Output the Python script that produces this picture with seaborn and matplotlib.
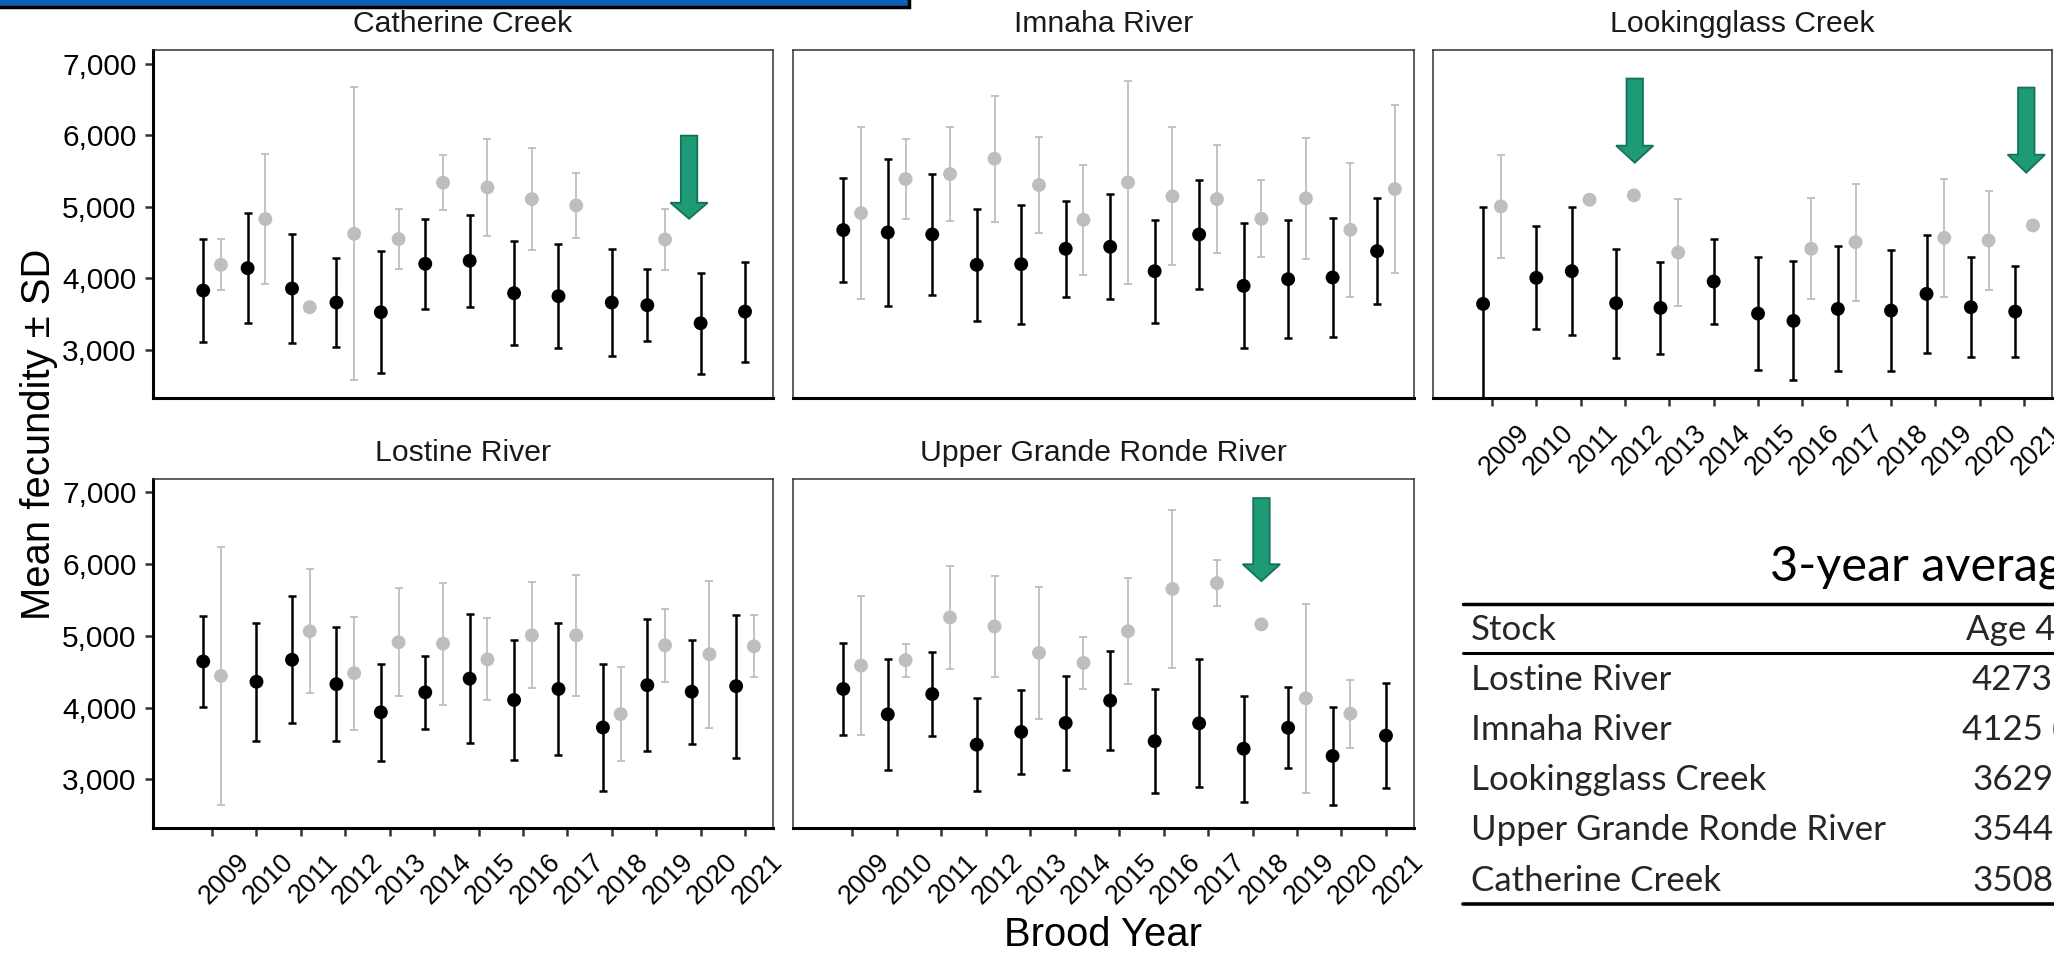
import numpy as np
import pandas as pd
import matplotlib
matplotlib.use("Agg")
import matplotlib.pyplot as plt
import matplotlib.transforms as mtransforms
from matplotlib.patches import Polygon, Rectangle
from matplotlib.lines import Line2D
import seaborn as sns

# ---------------- data ----------------
YEARS = list(range(2009, 2022))

CC_A4_MEAN = [3830, 4142, 3858, 3662, 3527, 4203, 4245, 3793, 3751, 3662, 3625, 3373, 3536]
CC_A4_SD = [716, 767, 765, 620, 853, 630, 646, 725, 725, 751, 499, 704, 699]
CC_A5_MEAN = [4189, 4828, 3597, 4622, 4548, 5336, 5270, 5107, 5019, None, 4543, None, None]
CC_A5_SD = [355, 909, None, 2047, 420, 383, 674, 716, 459, None, 429, None, None]

IR_A4_MEAN = [4674, 4641, 4613, 4189, 4198, 4413, 4441, 4100, 4613, 3895, 3988, 4012, 4380]
IR_A4_SD = [725, 1023, 849, 779, 830, 667, 730, 718, 763, 872, 823, 826, 741]
IR_A5_MEAN = [4911, 5387, 5457, 5671, 5303, 4818, 5340, 5145, 5107, 4832, 5117, 4678, 5247]
IR_A5_SD = [1199, 555, 651, 879, 667, 769, 1420, 963, 749, 539, 844, 935, 1173]

LC_A4_MEAN = [3643, 4007, 4100, 3653, 3587, 3956, 3508, 3406, 3573, 3550, 3783, 3597, 3536]
LC_A4_SD = [1352, 718, 893, 760, 641, 595, 793, 830, 872, 849, 825, 697, 641]
LC_A5_MEAN = [5005, None, 5098, 5159, 4361, None, None, 4413, 4506, None, 4566, 4529, 4739]
LC_A5_SD = [716, None, None, None, 742, None, None, 704, 818, None, 821, 688, None]

LR_A4_MEAN = [4641, 4359, 4665, 4325, 3933, 4211, 4402, 4105, 4258, 3722, 4311, 4220, 4297]
LR_A4_SD = [634, 823, 885, 790, 672, 512, 897, 830, 914, 890, 917, 723, 996]
LR_A5_MEAN = [4440, None, 5062, 4478, 4909, 4890, 4670, 5005, 5005, 3909, 4866, 4742, 4852]
LR_A5_SD = [1802, None, 866, 787, 751, 850, 570, 737, 840, 649, 510, 1024, 433]

UGR_A4_MEAN = [4258, 3904, 4187, 3483, 3660, 3785, 4096, 3531, 3780, 3426, 3718, 3325, 3608]
UGR_A4_SD = [634, 773, 586, 649, 586, 653, 687, 723, 890, 735, 562, 680, 730]
UGR_A5_MEAN = [4584, 4660, 5254, 5129, 4761, 4622, 5062, 5651, 5732, 5158, 4129, 3914, None]
UGR_A5_SD = [967, 230, 713, 703, 924, 359, 737, 1098, 321, None, 1314, 474, None]

STOCKS = ["Catherine Creek", "Imnaha River", "Lookingglass Creek",
          "Lostine River", "Upper Grande Ronde River"]
SERIES = {
    "Catherine Creek": (CC_A4_MEAN, CC_A4_SD, CC_A5_MEAN, CC_A5_SD),
    "Imnaha River": (IR_A4_MEAN, IR_A4_SD, IR_A5_MEAN, IR_A5_SD),
    "Lookingglass Creek": (LC_A4_MEAN, LC_A4_SD, LC_A5_MEAN, LC_A5_SD),
    "Lostine River": (LR_A4_MEAN, LR_A4_SD, LR_A5_MEAN, LR_A5_SD),
    "Upper Grande Ronde River": (UGR_A4_MEAN, UGR_A4_SD, UGR_A5_MEAN, UGR_A5_SD),
}

# highlight arrows: stock, x (year), top, head base, tip (fecundity units)
ARROWS = [
    ("Catherine Creek", 2019.74, 5993, 5056, 4832),
    ("Lookingglass Creek", 2012.22, 6790, 5853, 5615),
    ("Lookingglass Creek", 2021.05, 6664, 5727, 5476),
    ("Upper Grande Ronde River", 2018.2, 6916, 5995, 5760),
]

TABLE_TITLE = "3-year average"
TABLE_HEAD = ["Stock", "Age 4"]
TABLE_STOCKS = ["Lostine River", "Imnaha River", "Lookingglass Creek",
                "Upper Grande Ronde River", "Catherine Creek"]
TABLE_AGE4 = ["4273", "4125 (", "3629", "3544", "3508"]

# ---------------- long table ----------------
rows = []
for s in STOCKS:
    a4m, a4s, a5m, a5s = SERIES[s]
    for i, y in enumerate(YEARS):
        both = a4m[i] is not None and a5m[i] is not None
        if a5m[i] is not None:
            rows.append(dict(stock=s, year=y, age="Age 5", mean=a5m[i],
                             sd=a5s[i], xpos=y + (0.2 if both else 0.0)))
        if a4m[i] is not None:
            rows.append(dict(stock=s, year=y, age="Age 4", mean=a4m[i],
                             sd=a4s[i], xpos=y + (-0.2 if both else 0.0)))
df = pd.DataFrame(rows)
df["sd"] = pd.to_numeric(df["sd"])

# ---------------- style ----------------
sns.set_style("white")
plt.rcParams["font.family"] = ["Liberation Sans", "DejaVu Sans"]

GREY = "#BEBEBE"
W, H = 2054, 955
fig = plt.figure(figsize=(W / 100, H / 100), dpi=100)
fig.patch.set_facecolor("white")

cols = [(153, 773), (793, 1414), (1433, 2052)]
rws = [(50.5, 398.5), (479, 828)]
layout = {
    "Catherine Creek": (0, 0), "Imnaha River": (0, 1), "Lookingglass Creek": (0, 2),
    "Lostine River": (1, 0), "Upper Grande Ronde River": (1, 1),
}
show_x = {"Lookingglass Creek", "Lostine River", "Upper Grande Ronde River"}

YTICK_FS = 21.5
XTICK_FS = 19.2
axes = {}
for s in STOCKS:
    r, c = layout[s]
    x0, x1 = cols[c]
    y0, y1 = rws[r]
    ax = fig.add_axes([x0 / W, 1 - y1 / H, (x1 - x0) / W, (y1 - y0) / H])
    axes[s] = ax
    sub = df[df.stock == s].sort_values("age", ascending=False)
    for age, col, lw in [("Age 5", GREY, 1.3), ("Age 4", "black", 1.8)]:
        d = sub[(sub.age == age) & sub.sd.notna()]
        ax.errorbar(d.xpos, d["mean"], yerr=d.sd, fmt="none", ecolor=col,
                    elinewidth=lw, capsize=2.8, capthick=lw, zorder=2)
    sns.scatterplot(data=sub, x="xpos", y="mean", hue="age",
                    palette={"Age 4": "black", "Age 5": GREY},
                    s=100, linewidth=0, legend=False, ax=ax, zorder=3)
    ax.set_xlabel("")
    ax.set_ylabel("")
    ax.set_xlim(2007.67, 2021.63)
    ax.set_ylim(2322, 7182)
    ax.set_yticks([3000, 4000, 5000, 6000, 7000])
    ax.set_yticklabels([f"{v:,}" for v in [3000, 4000, 5000, 6000, 7000]])
    ax.set_xticks(YEARS)
    ax.set_xticklabels([str(y) for y in YEARS])

    for side in ["top", "right"]:
        ax.spines[side].set_color("#333333")
        ax.spines[side].set_linewidth(1.1)
    ax.spines["bottom"].set_color("black")
    ax.spines["bottom"].set_linewidth(2.2)
    ax.spines["left"].set_color("black" if c == 0 else "#333333")
    ax.spines["left"].set_linewidth(2.2 if c == 0 else 1.1)

    ax.tick_params(axis="y", length=5.8, width=1.8, color="#333333", pad=6,
                   labelsize=YTICK_FS, labelcolor="black",
                   left=(c == 0), labelleft=(c == 0))
    if s in show_x:
        ax.tick_params(axis="x", length=5.8, width=1.8, color="#333333",
                       pad=9.5, labelsize=XTICK_FS, labelcolor="black",
                       bottom=True, labelbottom=True)
        off = mtransforms.ScaledTranslation(0.24, 0, fig.dpi_scale_trans)
        for lbl in ax.get_xticklabels():
            lbl.set_rotation(45)
            lbl.set_ha("right")
            lbl.set_va("top")
            lbl.set_rotation_mode("anchor")
            lbl.set_transform(lbl.get_transform() + off)
    else:
        ax.tick_params(axis="x", bottom=False, labelbottom=False)

    ttl_off = mtransforms.ScaledTranslation(0, 0.185, fig.dpi_scale_trans)
    ax.text(0.5, 1.0, s, transform=ax.transAxes + ttl_off, ha="center",
            va="baseline", fontsize=21.7, color="#1a1a1a")

# arrows
for s, x, ytop, ybase, ytip in ARROWS:
    ax = axes[s]
    sw, hw = 0.185, 0.42
    pts = [(x - sw, ytop), (x + sw, ytop), (x + sw, ybase), (x + hw, ybase),
           (x, ytip), (x - hw, ybase), (x - sw, ybase)]
    ax.add_patch(Polygon(pts, closed=True, facecolor="#1F9A76",
                         edgecolor="#147257", lw=1.3, zorder=5, clip_on=False))

# axis titles
fig.text(39 / W, 1 - 434 / H, "Mean fecundity ± SD", rotation=90,
         ha="center", va="center", fontsize=28.8, color="black")
fig.text(1103.5 / W, 1 - 946 / H, "Brood Year", ha="center", va="baseline",
         fontsize=28.8, color="black")

# top banner fragment
fig.add_artist(Rectangle((-10 / W, 1 - 7 / H), 919 / W, 20 / H,
                         transform=fig.transFigure, facecolor="#0B5FB8",
                         edgecolor="black", lw=2.5, clip_on=False))

# table
tfont = ["Lato", "DejaVu Sans"]
fig.text(1770 / W, 1 - 567 / H, TABLE_TITLE, ha="left", va="center",
         fontsize=35, family=tfont, color="black")
for yy, lw in [(604, 2.5), (653, 2.2), (904, 2.6)]:
    fig.add_artist(Line2D([1463 / W, 1.0], [1 - yy / H] * 2,
                          transform=fig.transFigure, color="black", lw=lw))
ROW_FS = 25.1
fig.text(1471 / W, 1 - 630 / H, TABLE_HEAD[0], ha="left", va="center",
         fontsize=ROW_FS, family=tfont)
fig.text(1966 / W, 1 - 630 / H, TABLE_HEAD[1], ha="left", va="center",
         fontsize=ROW_FS, family=tfont)
row_y = [680, 730, 780, 830, 881]
num_x = [1972, 1962, 1972, 1972, 1972]
for name, val, yy, nx in zip(TABLE_STOCKS, TABLE_AGE4, row_y, num_x):
    fig.text(1471 / W, 1 - yy / H, name, ha="left", va="center",
             fontsize=ROW_FS, family=tfont)
    fig.text(nx / W, 1 - yy / H, val, ha="left", va="center",
             fontsize=ROW_FS, family=tfont)

fig.savefig("out.png", dpi=100, facecolor="white")
